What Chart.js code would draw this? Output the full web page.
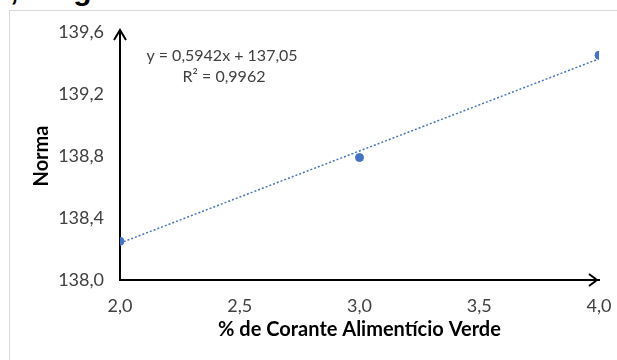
<!DOCTYPE html>
<html>
<head>
<meta charset="utf-8">
<script src="https://cdn.jsdelivr.net/npm/chart.js@4/dist/chart.umd.min.js"></script>
<style>
  body { margin: 0; background: #fff; overflow: hidden; }
  #wrap { position: relative; width: 617px; height: 360px; overflow: hidden; }
  #frame { position: absolute; left: 9px; top: 10px; width: 700px; height: 400px; border: 1px solid #d9d9d9; }
  #cut { position: absolute; left: 10px; top: -25px; font: bold 30px "Liberation Sans"; line-height: 30px; word-spacing: 20px; color: #000; }
  canvas { position: absolute; left: 0; top: 0; }
</style>
</head>
<body>
<div id="wrap">
  <div id="cut">, Fig</div>
  <div id="frame"></div>
  <canvas id="myChart" width="617" height="360"></canvas>
</div>
<script>
var xValues = [2, 3, 4];
var yValues = [138.25, 138.79, 139.45];
var trendX = [2, 4];
var trendY = [138.238, 139.427];
var eqLines = ["y = 0,5942x + 137,05", "R\u00b2 = 0,9962"];

function comma(v) {
  return Number(v).toFixed(1).replace(".", ",");
}

var arrows = {
  id: "arrows",
  afterDraw: function (chart) {
    var ctx = chart.ctx, a = chart.chartArea;
    ctx.save();
    ctx.strokeStyle = "#000";
    ctx.lineWidth = 2;
    ctx.beginPath();
    ctx.moveTo(a.left - 6, a.top + 8);
    ctx.lineTo(a.left, a.top - 2);
    ctx.lineTo(a.left + 6, a.top + 8);
    ctx.moveTo(a.right - 10, a.bottom - 6);
    ctx.lineTo(a.right - 2, a.bottom);
    ctx.lineTo(a.right - 10, a.bottom + 6);
    ctx.stroke();

    ctx.fillStyle = "#404040";
    ctx.font = "16px Lato";
    ctx.textAlign = "center";
    ctx.textBaseline = "middle";
    ctx.fillText(eqLines[0], 222, 56);
    ctx.fillText(eqLines[1], 224, 77);
    ctx.restore();
  }
};

Chart.defaults.font.family = "Lato";

var pts = xValues.map(function (x, i) { return { x: x, y: yValues[i] }; });
var trend = trendX.map(function (x, i) { return { x: x, y: trendY[i] }; });

new Chart("myChart", {
  type: "scatter",
  data: {
    datasets: [{
      data: trend,
      showLine: true,
      borderColor: "#4a76bd",
      borderWidth: 1.5,
      borderDash: [2, 2],
      pointRadius: 0
    }, {
      data: pts,
      backgroundColor: "#4472c4",
      borderColor: "#4472c4",
      pointRadius: 4
    }]
  },
  options: {
    responsive: false,
    animation: false,
    devicePixelRatio: 1,
    layout: { padding: { left: 30, right: 18, top: 32, bottom: 0 } },
    plugins: { legend: { display: false }, tooltip: { enabled: false } },
    scales: {
      x: {
        type: "linear",
        min: 2, max: 4,
        grid: { display: false, drawTicks: false },
        border: { color: "#000", width: 2 },
        ticks: { stepSize: 0.5, padding: 15, color: "#404040", font: { size: 18 }, callback: comma },
        title: { display: true, text: "% de Corante Aliment\u00edcio Verde", color: "#000", font: { size: 20, weight: "bold" }, padding: { top: 0, bottom: 18 } },
        afterFit: function (s) { s.height = 80; s.paddingLeft = 0; s.paddingRight = 0; }
      },
      y: {
        min: 138, max: 139.6,
        grid: { display: false, drawTicks: false },
        border: { color: "#000", width: 2 },
        ticks: { stepSize: 0.4, padding: 16, color: "#404040", font: { size: 18 }, callback: comma },
        title: { display: true, text: "Norma", color: "#000", font: { size: 20, weight: "bold" }, padding: 0 },
        afterFit: function (s) { s.width = 90; s.paddingTop = 0; s.paddingBottom = 0; }
      }
    }
  },
  plugins: [arrows]
});
</script>
</body>
</html>
